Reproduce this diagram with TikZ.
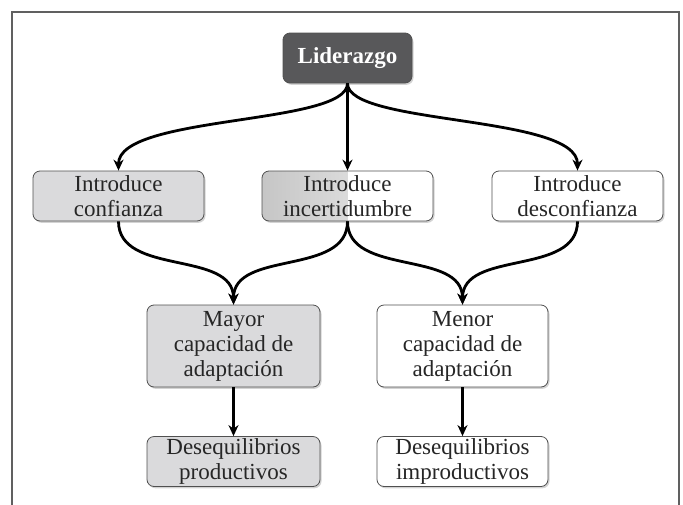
\documentclass[tikz,border=0pt]{standalone}
\usepackage{fontspec}
\setmainfont{Liberation Serif}
\usetikzlibrary{arrows.meta,shadows}
\definecolor{gris}{RGB}{218,218,220}
\definecolor{oscuro}{RGB}{88,88,90}
\definecolor{borde}{RGB}{80,80,80}
\tikzset{
	caja/.style={draw=borde, line width=0.8pt, rounded corners=7pt, fill=white, text=black!85,
		minimum width=171pt, minimum height=50pt, inner sep=0pt, align=center,
		font=\fontsize{23}{25}\selectfont,
		drop shadow={shadow xshift=1.5pt, shadow yshift=-1.8pt, opacity=0.35}},
	alta/.style={minimum height=82pt},
	flecha/.style={line width=2.8pt, -{Stealth[length=11pt,width=10pt]}},
}
\begin{document}
\begin{tikzpicture}[x=1pt,y=-1pt]
\useasboundingbox (0,0) rectangle (683,504);
\draw[line width=2pt, draw=gray!75!black] (12,530) -- (12,12) -- (679,12) -- (679,530);
\node[caja, fill=oscuro, text=white, minimum width=129pt, font=\bfseries\fontsize{23}{25}\selectfont] (lid) at (347.5,58) {Liderazgo};
\node[caja, fill=gris] (conf) at (118.5,196) {Introduce\\confianza};
\node[caja, path picture={
	\fill[sharp corners, left color=gray!45, right color=gray!12]
		(path picture bounding box.south west) rectangle (path picture bounding box.north);
	}] (inc) at (347.5,196) {Introduce\\incertidumbre};
\node[caja] (desc) at (577.5,196) {Introduce\\desconfianza};
\node[caja, alta, fill=gris, minimum width=173pt] (may) at (233.5,346) {Mayor\\capacidad de\\adaptación};
\node[caja, alta] (men) at (462.5,346) {Menor\\capacidad de\\adaptación};
\node[caja, fill=gris, minimum width=173pt] (dp) at (233.5,461.5) {Desequilibrios\\productivos};
\node[caja] (di) at (462.5,461.5) {Desequilibrios\\improductivos};
\foreach \b in {conf,desc}
	\draw[flecha] (lid.south) .. controls +(0,42) and +(0,-56) .. (\b.north);
\draw[flecha] (lid) -- (inc);
\foreach \a/\b in {conf/may,inc/may,inc/men,desc/men}
	\draw[flecha] (\a.south) .. controls +(0,55) and +(0,-55) .. (\b.north);
\foreach \a/\b in {may/dp,men/di}
	\draw[flecha] (\a) -- (\b);
\end{tikzpicture}
\end{document}
